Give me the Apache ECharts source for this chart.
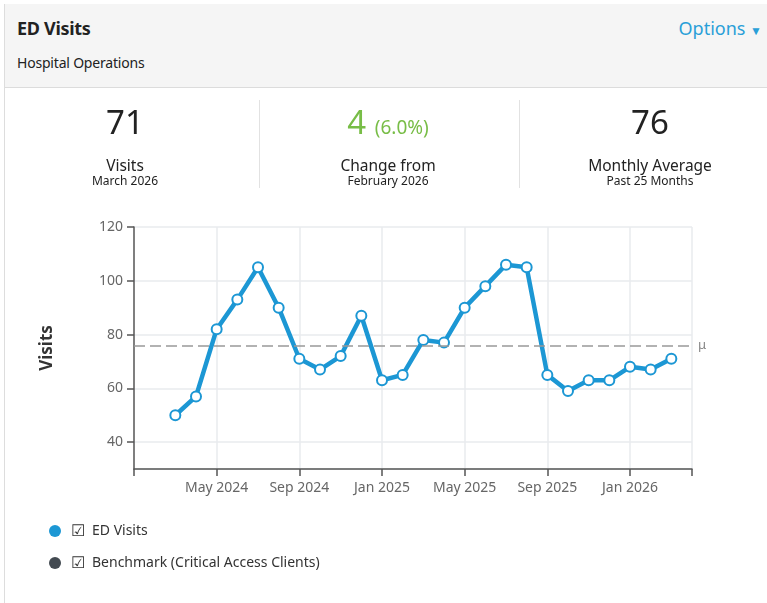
<!DOCTYPE html>
<html>
<head>
<meta charset="utf-8">
<script src="https://cdn.jsdelivr.net/npm/echarts@6/dist/echarts.min.js"></script>
<style>
  body{margin:0;width:767px;height:603px;overflow:hidden;background:#fff;font-family:'Segoe UI','Noto Sans',sans-serif;color:#222;}
  #panel{position:absolute;left:4px;top:4px;width:763px;height:599px;border-left:1px solid #ddd;}
  #head{position:absolute;left:0;top:0;width:763px;height:83px;background:#f5f5f5;border-bottom:1px solid #dcdcdc;}
  .abs{position:absolute;white-space:nowrap;}
  .kpi{position:absolute;width:240px;text-align:center;white-space:nowrap;}
  .sep{position:absolute;top:100px;width:1px;height:88px;background:#e2e2e2;}
  #chart{position:absolute;left:0;top:0;width:767px;height:603px;}
</style>
</head>
<body>
<div id="chart"></div>
<div id="panel">
  <div id="head">
    <div class="abs" style="left:12px;top:12px;font-size:18px;font-weight:bold;line-height:24px;letter-spacing:-0.3px;">ED Visits</div>
    <div class="abs" style="left:12px;top:49px;font-size:14px;line-height:20px;letter-spacing:-0.2px;">Hospital Operations</div>
    <div class="abs" style="right:6px;top:12px;font-size:18px;line-height:24px;color:#2a9fd8;">Options <span style="font-size:12px;">&#9660;</span></div>
  </div>
</div>
<div class="kpi" style="left:5px;top:102px;font-size:33px;line-height:40px;">71</div>
<div class="kpi" style="left:5px;top:155px;font-size:15.5px;line-height:20px;">Visits</div>
<div class="kpi" style="left:5px;top:174px;font-size:12px;line-height:14px;">March 2026</div>
<div class="sep" style="left:259px;"></div>
<div class="kpi" style="left:268px;top:102px;font-size:33px;line-height:40px;color:#78bd47;">4 <span style="font-size:19px;">(6.0%)</span></div>
<div class="kpi" style="left:268px;top:155px;font-size:15.5px;line-height:20px;">Change from</div>
<div class="kpi" style="left:268px;top:174px;font-size:12px;line-height:14px;">February 2026</div>
<div class="sep" style="left:519px;"></div>
<div class="kpi" style="left:530px;top:102px;font-size:33px;line-height:40px;">76</div>
<div class="kpi" style="left:530px;top:155px;font-size:15.5px;line-height:20px;">Monthly Average</div>
<div class="kpi" style="left:530px;top:174px;font-size:12px;line-height:14px;">Past 25 Months</div>
<script>
// axis months, Jan 2024 .. Apr 2026
var months = ['Jan 2024','Feb 2024','Mar 2024','Apr 2024','May 2024','Jun 2024','Jul 2024','Aug 2024',
  'Sep 2024','Oct 2024','Nov 2024','Dec 2024','Jan 2025','Feb 2025','Mar 2025','Apr 2025','May 2025',
  'Jun 2025','Jul 2025','Aug 2025','Sep 2025','Oct 2025','Nov 2025','Dec 2025','Jan 2026','Feb 2026',
  'Mar 2026','Apr 2026'];
// ED visits, Mar 2024 .. Mar 2026
var visitMonths = months.slice(2, 27);
var visits = [50,57,82,93,105,90,71,67,72,87,63,65,78,77,90,98,106,105,65,59,63,63,68,67,71];
var avgVisits = 76;
var blue = '#1c97d4';

var chart = echarts.init(document.getElementById('chart'));
var font = "'Segoe UI','Noto Sans',sans-serif";
var option = {
  animation:false,
  textStyle:{fontFamily:font},
  grid:{left:134, right:75, top:227, bottom:134, containLabel:false, outerBoundsMode:'none'},
  legend:{
    orient:'vertical', left:44, top:518, itemGap:16, itemWidth:12, itemHeight:12, icon:'circle',
    selectedMode:false,
    data:[
      {name:'ED Visits', itemStyle:{color:blue, borderWidth:0}},
      {name:'Benchmark (Critical Access Clients)', itemStyle:{color:'#434a51', borderWidth:0}}
    ],
    formatter:function(name){ return '{box|\u2611}' + name },
    textStyle:{fontSize:14, color:'#333', rich:{box:{fontSize:16, color:'#333', padding:[0,7,0,5]}}}
  },
  xAxis:{
    type:'category', data:months, boundaryGap:false,
    axisLine:{lineStyle:{color:'#555', width:1.5}},
    axisTick:{length:7, lineStyle:{color:'#555', width:1.5}, interval:function(i){ return i % 4 === 0 || i === 27 }},
    axisLabel:{color:'#666', fontSize:14, margin:12, interval:function(i){ return i % 4 === 0 && i > 0 && i < 27 }},
    splitLine:{show:true, lineStyle:{color:'#e9ebee', width:1.5}, interval:function(i){ return (i % 4 === 0 && i > 0) || i === 27 }}
  },
  yAxis:{
    type:'value', min:30, max:120,
    name:'Visits', nameLocation:'middle', nameGap:78,
    nameTextStyle:{fontSize:17, fontWeight:'bold', color:'#333'},
    axisLine:{show:true, lineStyle:{color:'#555', width:1.5}},
    axisTick:{show:true, length:7, lineStyle:{color:'#555', width:1.5}},
    axisLabel:{color:'#666', fontSize:14, margin:11, showMinLabel:false},
    splitLine:{lineStyle:{color:'#e9ebee', width:1.5}}
  },
  series:[
    {
      name:'ED Visits', type:'line', color:blue,
      data:visitMonths.map(function(m, i){ return [m, visits[i]] }),
      symbol:'emptyCircle', symbolSize:10, showSymbol:true,
      lineStyle:{width:4.5, color:blue},
      itemStyle:{color:blue, borderWidth:3},
      markLine:{
        silent:true, symbol:'none',
        lineStyle:{color:'#999', type:[11,5], width:1.5},
        label:{position:'end', formatter:'\u03bc', color:'#888', fontSize:13, distance:6},
        data:[{yAxis:avgVisits}]
      }
    },
    {name:'Benchmark (Critical Access Clients)', type:'line', color:'#434a51', data:[]}
  ]
};
chart.setOption(option);
</script>
</body>
</html>
